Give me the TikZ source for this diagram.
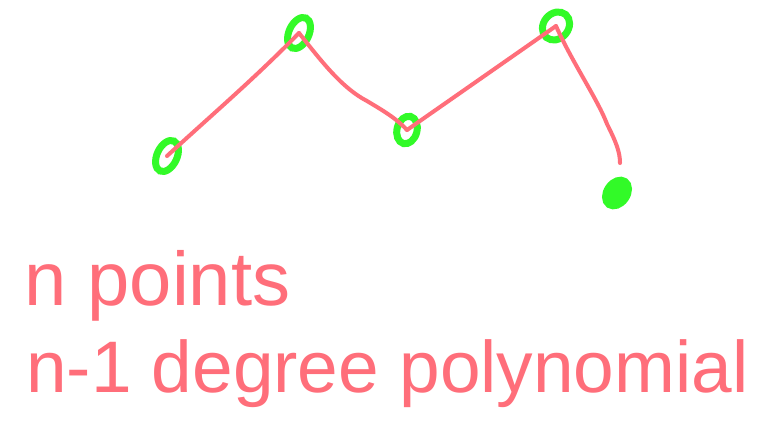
\documentclass[tikz,border=0pt]{standalone}
\usepackage{fontspec}
\setmainfont{Liberation Sans}
\usetikzlibrary{shapes.geometric}

\definecolor{inkred}{RGB}{255,110,122}
\definecolor{inkgreen}{RGB}{50,250,40}

\begin{document}
\begin{tikzpicture}[
      x=1pt,y=-1pt,
      pt/.style={ellipse,draw=inkgreen,line width=7pt,inner sep=0pt,
                 minimum width=20pt,minimum height=33pt},
      curve/.style={draw=inkred,line width=4pt,line cap=round},
      lbl/.style={text=inkred,anchor=base west,inner sep=0pt},
    ]
      \useasboundingbox[fill=white] (0,0) rectangle (767,426);
      % the five points
      \node[pt,rotate=-25] (p1) at (167,156) {};
      \node[pt,rotate=-25] (p2) at (299,33)  {};
      \node[pt,rotate=-15,minimum height=28pt] (p3) at (407,130) {};
      \node[pt,rotate=-40,minimum width=25pt,minimum height=30pt] (p4) at (556,26) {};
      \node[pt,rotate=-35,fill=inkgreen,minimum height=28pt] (p5) at (617,193) {};
      \coordinate (tail) at (620,163);
      % the sketched curve
      \draw[curve] (p1.center) .. controls (215,112) and (255,78) .. (p2.center);
      \draw[curve] (p2.center) .. controls (322,62) and (342,88) .. (367,101)
                   .. controls (382,110) and (396,118) .. (p3.center);
      \draw[curve] (p3.center) -- (p4.center);
      \draw[curve] (p4.center) .. controls (572,62) and (598,100) .. (607,124)
                   .. controls (616,142) and (620,152) .. (tail);
      % labels
      \node[lbl,font=\fontsize{76}{80}\selectfont] (npts) at (24,305) {n points};
      \node[lbl,font=\fontsize{73}{76}\selectfont] (deg)  at (26,392) {n-1 degree polynomial};
    \end{tikzpicture}
\end{document}
